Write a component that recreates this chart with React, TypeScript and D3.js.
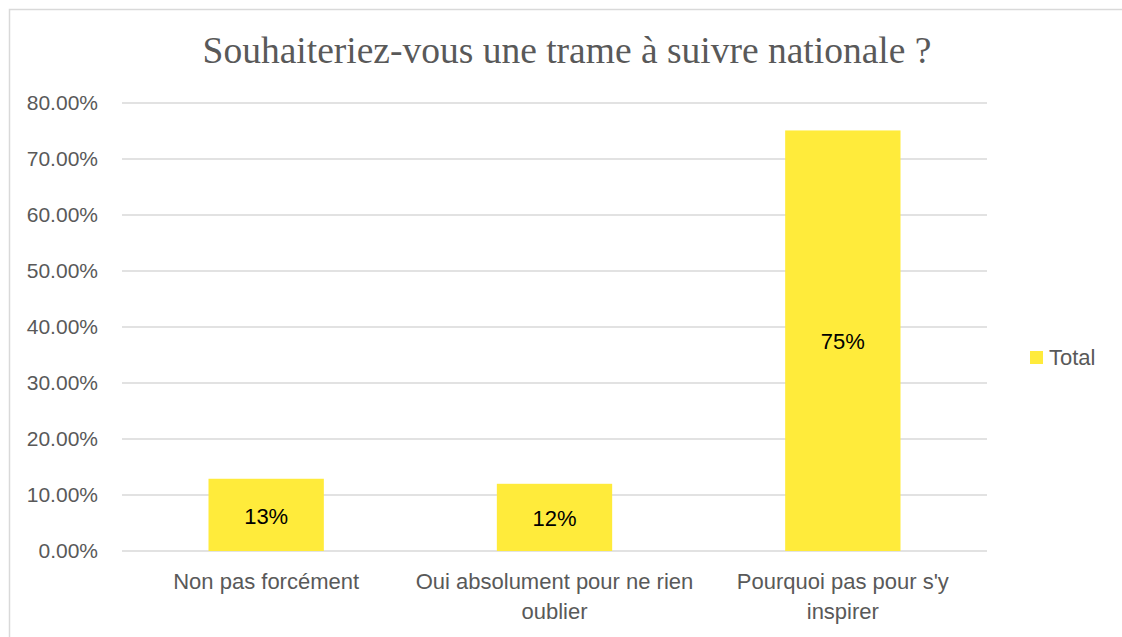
import React from 'react';
import * as d3 from 'd3';

// data
const categories = ['Non pas forcément', 'Oui absolument pour ne rien oublier', "Pourquoi pas pour s'y inspirer"];
const categoryLines = [['Non pas forcément'], ['Oui absolument pour ne rien', 'oublier'], ["Pourquoi pas pour s'y", 'inspirer']];
const totals = [0.129, 0.12, 0.751];
const valueLabels = ['13%', '12%', '75%'];
const yTicks = [0, 0.1, 0.2, 0.3, 0.4, 0.5, 0.6, 0.7, 0.8];
const seriesName = 'Total';
const title = 'Souhaiteriez-vous une trame à suivre nationale ?';

const W = 1122;
const H = 637;
const plot = { left: 122, right: 987, top: 103, bottom: 551 };
const barColor = '#FFEB3B';
const textGrey = '#595959';
const sans = '"Liberation Sans", Arial, sans-serif';

const App = () => {
  const x = d3.scaleBand<string>()
    .domain(categories)
    .range([plot.left, plot.right])
    .paddingInner(0.6)
    .paddingOuter(0.3);

  const y = d3.scaleLinear()
    .domain([0, 0.8])
    .range([plot.bottom, plot.top]);

  const fmt = d3.format('.2%');
  const mid = (c: string) => (x(c) || 0) + x.bandwidth() / 2;

  return (
    <svg width={W} height={H} style={{ position: 'absolute', left: 0, top: 0, background: '#fff' }}>
      <rect x={9.5} y={9.5} width={W + 10} height={H + 10} fill="#fff" stroke="#D9D9D9" strokeWidth={1.5} />

      <text x={567} y={63} textAnchor="middle" fontFamily='"Liberation Serif", "Times New Roman", serif'
        fontSize={37.5} fill={textGrey}>{title}</text>

      <g className="grid">
        {yTicks.map(t => (
          <line key={t} x1={plot.left} x2={plot.right} y1={y(t)} y2={y(t)} stroke="#D9D9D9" strokeWidth={1.5} />
        ))}
      </g>

      <g className="y-axis">
        {yTicks.map(t => (
          <text key={t} x={98} y={y(t)} dy="0.35em" textAnchor="end" fontFamily={sans} fontSize={21} fill={textGrey}>
            {fmt(t)}
          </text>
        ))}
      </g>

      <g className="bars">
        {categories.map((c, i) => (
          <g key={c}>
            <rect x={x(c)} y={y(totals[i])} width={x.bandwidth()} height={y(0) - y(totals[i])} fill={barColor} />
            <text x={mid(c)} y={(y(totals[i]) + y(0)) / 2 + 1} dy="0.35em" textAnchor="middle"
              fontFamily={sans} fontSize={22} fill="#000">{valueLabels[i]}</text>
          </g>
        ))}
      </g>

      <g className="x-axis">
        {categories.map((c, i) => (
          <text key={c} x={mid(c)} y={581} textAnchor="middle" fontFamily={sans} fontSize={22} fill={textGrey}>
            {categoryLines[i].map((line, j) => (
              <tspan key={j} x={mid(c)} dy={j === 0 ? '0.35em' : 30}>{line}</tspan>
            ))}
          </text>
        ))}
      </g>

      <g className="legend">
        <rect x={1030} y={351} width={13} height={13} fill={barColor} />
        <text x={1049} y={357.5} dy="0.35em" fontFamily={sans} fontSize={22} fill={textGrey}>{seriesName}</text>
      </g>
    </svg>
  );
};

export default App;
